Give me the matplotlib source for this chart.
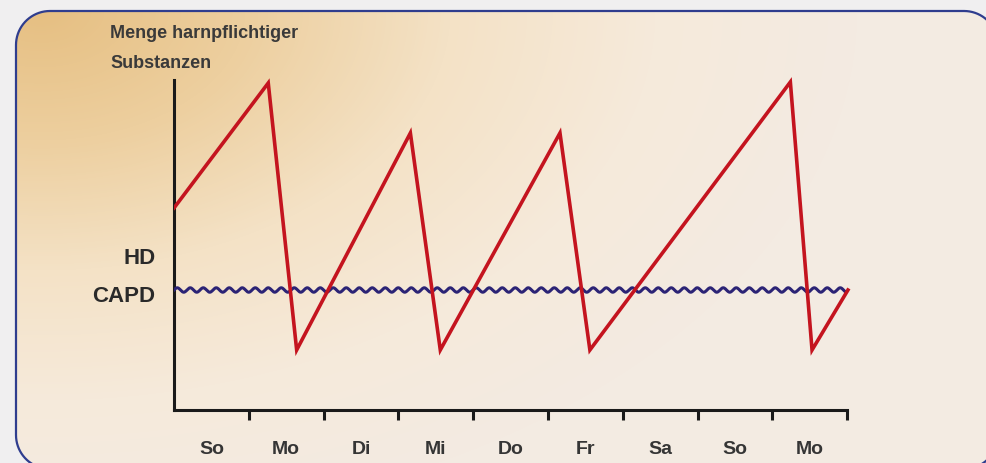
import numpy as np
import matplotlib.pyplot as plt
from matplotlib.patches import PathPatch
from matplotlib.path import Path
from matplotlib.colors import LinearSegmentedColormap

# data: days and concentration levels
days = ['So', 'Mo', 'Di', 'Mi', 'Do', 'Fr', 'Sa', 'So', 'Mo']
hd_x = [0.0, 1.26, 1.64, 3.16, 3.56, 5.16, 5.56, 8.24, 8.53, 9.01]
hd_y = [2.02, 3.27, 0.60, 2.77, 0.60, 2.77, 0.60, 3.28, 0.60, 1.20]
capd_level = 1.20
capd_start, capd_end = 0.0, 8.97

W, H = 986, 463
fig = plt.figure(figsize=(W / 100, H / 100), dpi=100)
fig.patch.set_facecolor('#f0eff0')

# background panel with warm gradient (pixel coords, y up)
bg = fig.add_axes([0, 0, 1, 1])
bg.axis('off')
yy, xx = np.mgrid[0:H, 0:W]
d = np.sqrt(((xx - 40) / 820.0) ** 2 + ((yy - 10) / 520.0) ** 2)
t = np.clip(d, 0, 1)
cmap = LinearSegmentedColormap.from_list(
    'warm', ['#e6bf82', '#edcf9f', '#f4e2c6', '#f6eadb', '#f3ebe2'])
im = bg.imshow(t, cmap=cmap, extent=(0, W, 0, H), origin='upper',
               aspect='auto', zorder=0)


def rounded_rect(left, bottom, right, top, r):
    pts = []
    for cxy, a0 in [((right - r, top - r), 0), ((left + r, top - r), 90),
                    ((left + r, bottom + r), 180), ((right - r, bottom + r), 270)]:
        ang = np.radians(np.linspace(a0, a0 + 90, 20))
        pts += list(zip(cxy[0] + r * np.cos(ang), cxy[1] + r * np.sin(ang)))
    pts.append(pts[0])
    return Path(pts, closed=True)


panel = PathPatch(rounded_rect(16, -6, 998, H - 11, 34), facecolor='none',
                  edgecolor='#2f3d8e', lw=1.6, zorder=2, transform=None)
bg.add_patch(panel)
panel.set_transform(bg.transData)
im.set_clip_path(panel)
bg.set_xlim(0, W)
bg.set_ylim(0, H)

# plot area
px = 74.8   # pixels per day
py = 100.0  # pixels per unit
x0, y0 = 174, 410
ax = fig.add_axes([x0 / W, (H - y0) / H, 9.4 * px / W, 3.4 * py / H])
ax.set_xlim(0, 9.4)
ax.set_ylim(0, 3.4)
ax.patch.set_alpha(0)
for s in ['top', 'right']:
    ax.spines[s].set_visible(False)
ax.spines['left'].set_bounds(0, 3.3)
ax.spines['bottom'].set_bounds(0, 9.0)
for s in ['left', 'bottom']:
    ax.spines[s].set_linewidth(2.2)
    ax.spines[s].set_color('#1a1a1a')
ax.set_yticks([])
ax.set_xticks(range(1, 10))
ax.set_xticklabels([])
ax.tick_params(axis='x', direction='out', length=7, width=2.2, color='#1a1a1a')

for i, d_ in enumerate(days):
    ax.text(i + 0.5, -0.40, d_, ha='center', va='center', fontsize=14,
            color='#353535', fontweight='bold', family='Liberation Sans')

# CAPD wavy line
cx = np.linspace(capd_start, capd_end, 1200)
ripple = 0.022 * np.sin(2 * np.pi * cx * px / 13.0)
ax.plot(cx, capd_level + ripple, color='#2b2375', lw=2.2, zorder=3)

# HD sawtooth
ax.plot(hd_x, hd_y, color='#c4141f', lw=2.6, zorder=4, solid_joinstyle='miter')

ax.text(-0.25, 1.52, 'HD', ha='right', va='center', fontsize=16, color='#2a2a2a',
        fontweight='bold', family='Liberation Sans')
ax.text(-0.25, 1.14, 'CAPD', ha='right', va='center', fontsize=16, color='#2a2a2a',
        fontweight='bold', family='Liberation Sans')

fig.text(110 / W, 1 - 34 / H, 'Menge harnpflichtiger', fontsize=13, color='#3a3a3a',
         va='center', fontweight='bold', family='Liberation Sans')
fig.text(110 / W, 1 - 63 / H, 'Substanzen', fontsize=13, color='#3a3a3a',
         va='center', fontweight='bold', family='Liberation Sans')

fig.savefig('out.png', dpi=100, facecolor=fig.get_facecolor())
